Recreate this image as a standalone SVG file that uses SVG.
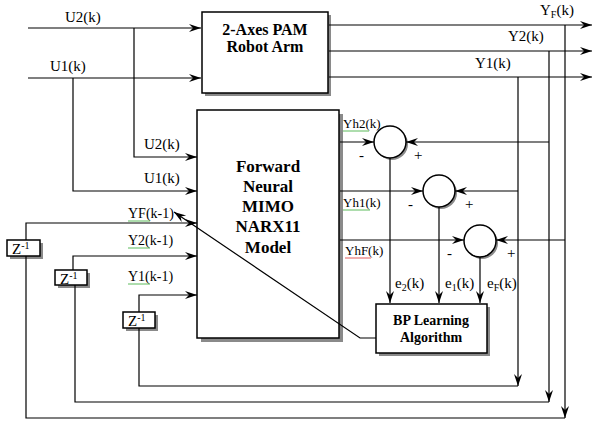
<svg xmlns="http://www.w3.org/2000/svg" width="593" height="421" viewBox="0 0 593 421">
<style>
.ln{stroke:#000;stroke-width:1.2;fill:none}
.bx{fill:#fff;stroke:#000;stroke-width:1.5}
.sh{fill:#8a8a8a}
.t{font-family:'Liberation Serif','Times New Roman',serif;font-size:15px;fill:#000}
.m{font-size:14px}
.h{font-size:13px}
.b{font-family:'Liberation Serif','Times New Roman',serif;font-weight:bold;fill:#000;text-anchor:middle}
.s{font-size:10px}
.sq{stroke-width:0.8;fill:none}
</style>
<defs>
<marker id="ar" markerUnits="userSpaceOnUse" markerWidth="14" markerHeight="10" refX="12" refY="4" orient="auto">
<path d="M0,0 L12,4 L0,8 L4,4 z" fill="#000"/>
</marker>
</defs>
<rect width="593" height="421" fill="#fff"/>

<g id="robot">
<rect class="sh" x="205" y="15" width="126" height="81"/>
<rect class="bx" x="202" y="12" width="126" height="81"/>
<text class="b" x="265" y="35" font-size="16">2-Axes PAM</text>
<text class="b" x="265" y="52" font-size="16">Robot Arm</text>
</g>

<g id="model">
<rect class="sh" x="201" y="114" width="142" height="228"/>
<rect class="bx" x="197" y="110" width="142" height="228"/>
<text class="b" x="268" y="172" font-size="17">Forward</text>
<text class="b" x="268" y="192" font-size="17">Neural</text>
<text class="b" x="268" y="212" font-size="17">MIMO</text>
<text class="b" x="268" y="232" font-size="17">NARX11</text>
<text class="b" x="268" y="253" font-size="17">Model</text>
</g>

<g id="bp">
<rect class="sh" x="379" y="307" width="111" height="49"/>
<rect class="bx" x="376" y="304" width="111" height="49"/>
<text class="b" x="431" y="325" font-size="14">BP Learning</text>
<text class="b" x="431" y="342" font-size="14">Algorithm</text>
</g>

<g id="z1">
<rect class="sh" x="10" y="243" width="33" height="16"/>
<rect class="bx" x="7" y="240" width="33" height="16"/>
<text class="t" x="12" y="254" font-size="14">Z<tspan class="s" dy="-5">-1</tspan></text>
</g>
<g id="z2">
<rect class="sh" x="58" y="273" width="32" height="15"/>
<rect class="bx" x="55" y="270" width="32" height="15"/>
<text class="t" x="60" y="284" font-size="14">Z<tspan class="s" dy="-5">-1</tspan></text>
</g>
<g id="z3">
<rect class="sh" x="126" y="315" width="32" height="16"/>
<rect class="bx" x="123" y="312" width="32" height="16"/>
<text class="t" x="128" y="326" font-size="14">Z<tspan class="s" dy="-5">-1</tspan></text>
</g>

<g id="sum1">
<circle cx="392" cy="144" r="16" fill="#8a8a8a"/>
<circle cx="390" cy="142" r="16" class="bx"/>
<text class="t" x="359" y="160">-</text>
<text class="t" x="414" y="160">+</text>
</g>
<g id="sum2">
<circle cx="441" cy="193" r="16" fill="#8a8a8a"/>
<circle cx="439" cy="191" r="16" class="bx"/>
<text class="t" x="408" y="209">-</text>
<text class="t" x="465" y="209">+</text>
</g>
<g id="sum3">
<circle cx="482" cy="243" r="16" fill="#8a8a8a"/>
<circle cx="480" cy="241" r="16" class="bx"/>
<text class="t" x="447" y="258">-</text>
<text class="t" x="507" y="258">+</text>
</g>

<g id="connectors">
<path class="ln" d="M28,28 H201" marker-end="url(#ar)"/>
<path class="ln" d="M28,78 H201" marker-end="url(#ar)"/>
<path class="ln" d="M134,28 V157 H197" marker-end="url(#ar)"/>
<path class="ln" d="M73,78 V191 H197" marker-end="url(#ar)"/>
<path class="ln" d="M26,240 V223 H197" marker-end="url(#ar)"/>
<path class="ln" d="M73,270 V256 H197" marker-end="url(#ar)"/>
<path class="ln" d="M139,312 V295 H197" marker-end="url(#ar)"/>
<path class="ln" d="M139,328 V386 H518"/>
<path class="ln" d="M75,285 V402 H549"/>
<path class="ln" d="M26,256 V418 H565"/>
<path class="ln" d="M329,25 H592" marker-end="url(#ar)"/>
<path class="ln" d="M329,51 H592" marker-end="url(#ar)"/>
<path class="ln" d="M329,77 H592" marker-end="url(#ar)"/>
<path class="ln" d="M518,77 V386" marker-end="url(#ar)"/>
<path class="ln" d="M549,51 V402" marker-end="url(#ar)"/>
<path class="ln" d="M565,25 V418" marker-end="url(#ar)"/>
<path class="ln" d="M340,142 H374" marker-end="url(#ar)"/>
<path class="ln" d="M549,142 H406" marker-end="url(#ar)"/>
<path class="ln" d="M340,191 H423" marker-end="url(#ar)"/>
<path class="ln" d="M518,191 H455" marker-end="url(#ar)"/>
<path class="ln" d="M340,240 H464" marker-end="url(#ar)"/>
<path class="ln" d="M565,240 H496" marker-end="url(#ar)"/>
<path class="ln" d="M390,158 V303" marker-end="url(#ar)"/>
<path class="ln" d="M439,207 V303" marker-end="url(#ar)"/>
<path class="ln" d="M480,257 V303" marker-end="url(#ar)"/>
<path class="ln" d="M376,338 H360 L174,212" marker-end="url(#ar)"/>
</g>

<g id="labels">
<text class="t" x="65" y="22">U2(k)</text>
<text class="t" x="50" y="71">U1(k)</text>
<text class="t" x="144" y="149">U2(k)</text>
<text class="t" x="144" y="183">U1(k)</text>
<text class="t m" x="128" y="218">YF(k-1)</text>
<text class="t m" x="128" y="245">Y2(k-1)</text>
<text class="t m" x="128" y="281">Y1(k-1)</text>
<text class="t" x="540" y="15">Y<tspan class="s" dy="3">F</tspan><tspan dy="-3">(k)</tspan></text>
<text class="t" x="508" y="41">Y2(k)</text>
<text class="t" x="475" y="68">Y1(k)</text>
<text class="t h" x="343" y="128">Yh2(k)</text>
<text class="t h" x="343" y="207">Yh1(k)</text>
<text class="t h" x="345" y="255">YhF(k)</text>
<text class="t" x="395" y="288">e<tspan class="s" dy="3">2</tspan><tspan dy="-3">(k)</tspan></text>
<text class="t" x="445" y="288">e<tspan class="s" dy="3">1</tspan><tspan dy="-3">(k)</tspan></text>
<text class="t" x="487" y="288">e<tspan class="s" dy="3">F</tspan><tspan dy="-3">(k)</tspan></text>
<path class="sq" stroke="#3a3" d="M128,221 h22"/>
<path class="sq" stroke="#3a3" d="M128,248 h22"/>
<path class="sq" stroke="#3a3" d="M128,284 h22"/>
<path class="sq" stroke="#3a3" d="M343,131 h26"/>
<path class="sq" stroke="#3a3" d="M343,210 h27"/>
<path class="sq" stroke="#d33" d="M345,258 h26"/>
</g>
</svg>
